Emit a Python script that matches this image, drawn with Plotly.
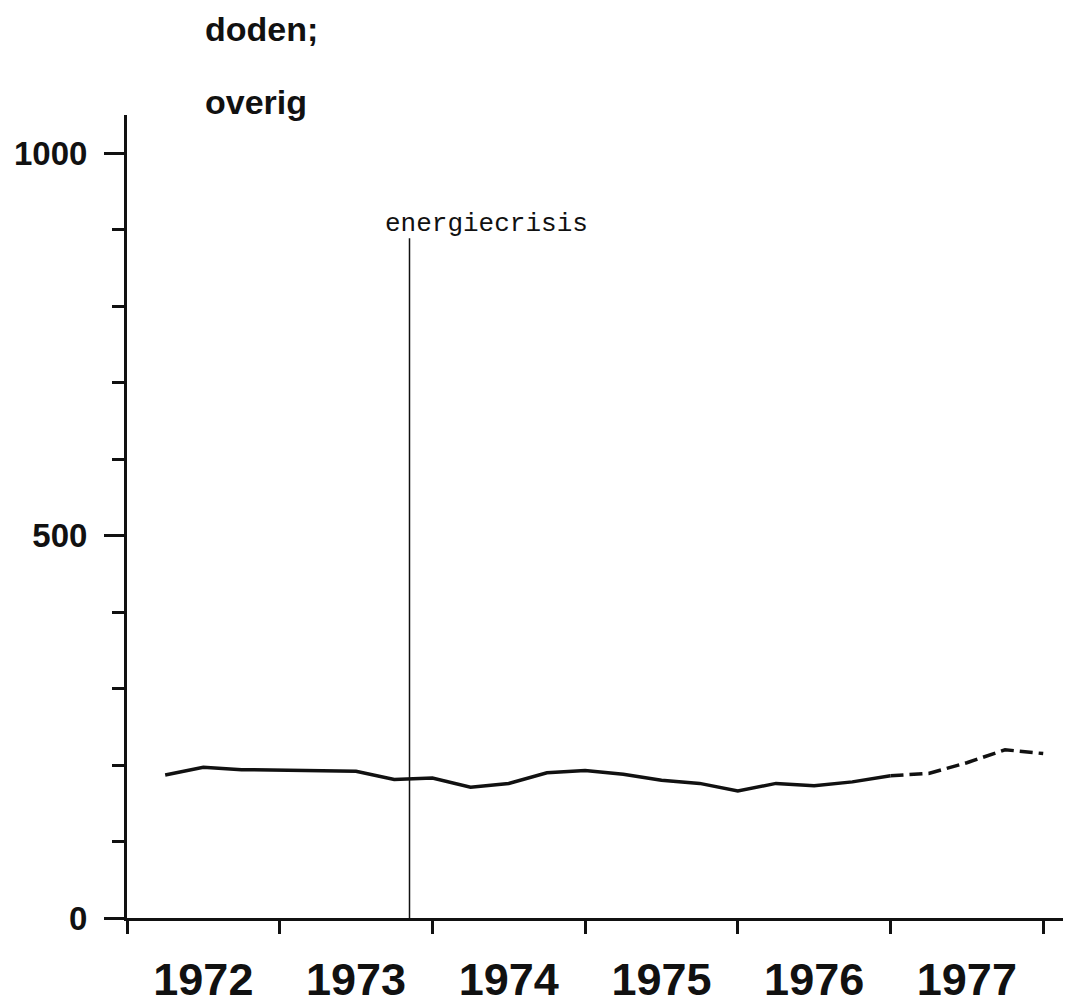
import plotly.graph_objects as go

# ---- data ----
quarter_index = list(range(1, 25))  # quarters since start of 1972 (plotted at quarter end)
doden_overig = [187, 197, 194, 193, 192, 192, 181, 183,
                171, 176, 190, 193, 188, 180, 176, 166,
                176, 173, 178, 186, 189, 203, 220, 215]
solid_count = 20          # first 20 quarters solid, rest dashed (provisional)
year_labels = ["1972", "1973", "1974", "1975", "1976", "1977"]
first_year = 1972
crisis_x = 1973.85
crisis_label = "energiecrisis"
crisis_top = 889

x_vals = [first_year + q / 4 for q in quarter_index]

INK = "#111111"
fig = go.Figure()
fig.add_trace(go.Scatter(
    x=x_vals[:solid_count], y=doden_overig[:solid_count], mode="lines",
    line=dict(color=INK, width=3.5), showlegend=False, hoverinfo="skip"))
fig.add_trace(go.Scatter(
    x=x_vals[solid_count - 1:], y=doden_overig[solid_count - 1:], mode="lines",
    line=dict(color=INK, width=3.5, dash="13px,6px"), showlegend=False, hoverinfo="skip"))

# energy crisis vertical line
fig.add_trace(go.Scatter(
    x=[crisis_x, crisis_x], y=[0, crisis_top], mode="lines",
    line=dict(color=INK, width=1.5), showlegend=False, hoverinfo="skip"))
fig.add_annotation(x=crisis_x, y=crisis_top, xref="x", yref="y",
                   text=crisis_label, showarrow=False,
                   xanchor="left", yanchor="bottom", xshift=-27, yshift=-3,
                   font=dict(family="Liberation Mono", size=26, color=INK))

# titles
fig.add_annotation(x=0.081, y=1.1065, xref="paper", yref="paper",
                   text="doden;", showarrow=False, xanchor="left", yanchor="middle",
                   font=dict(family="Liberation Sans", size=34, color=INK, weight="bold"))
fig.add_annotation(x=0.081, y=1.0168, xref="paper", yref="paper",
                   text="overig", showarrow=False, xanchor="left", yanchor="middle",
                   font=dict(family="Liberation Sans", size=34, color=INK, weight="bold"))

n_years = len(year_labels)
fig.update_xaxes(
    range=[first_year, first_year + 6.182],
    tickmode="array",
    tickvals=[first_year + i + 0.5 for i in range(n_years)],
    ticktext=year_labels,
    ticks="", ticklabelstandoff=20, automargin=False,
    tickfont=dict(family="Liberation Sans", size=45, color=INK, weight="bold"),
    showline=True, linecolor=INK, linewidth=3,
    showgrid=False, zeroline=False,
    minor=dict(tickmode="array", tickvals=[first_year + i for i in range(n_years + 1)],
               ticks="outside", ticklen=13, tickwidth=3, tickcolor=INK, showgrid=False),
)
fig.update_yaxes(
    range=[0, 1050], automargin=False,
    tickmode="array", tickvals=[0, 500, 1000], ticktext=["0", "500", "1000"],
    ticks="outside", ticklen=20, tickwidth=3, tickcolor=INK, ticklabelstandoff=10,
    tickfont=dict(family="Liberation Sans", size=33, color=INK, weight="bold"),
    showline=True, linecolor=INK, linewidth=3,
    showgrid=False, zeroline=False,
    minor=dict(tickmode="array", tickvals=[100, 200, 300, 400, 600, 700, 800, 900],
               ticks="outside", ticklen=12, tickwidth=3, tickcolor=INK, showgrid=False),
)

# page body has an 8px default margin, so the figure is sized/offset to compensate
fig.update_layout(
    width=1063, height=997,
    margin=dict(l=119, r=0, t=107, b=87),
    paper_bgcolor="white", plot_bgcolor="white",
    showlegend=False,
)

fig.write_html("out.html")
